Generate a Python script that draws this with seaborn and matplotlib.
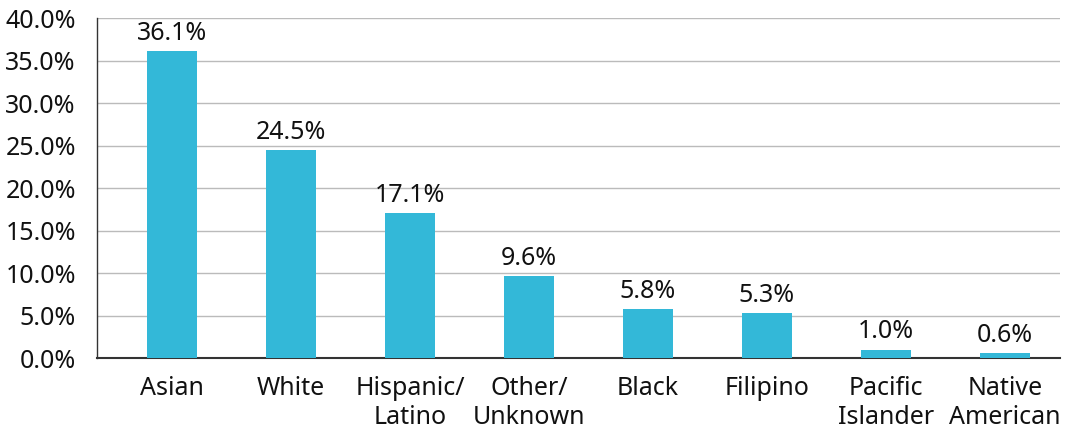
import matplotlib
matplotlib.use("Agg")
import matplotlib.pyplot as plt
import seaborn as sns
import pandas as pd

# data
groups = ["Asian", "White", "Hispanic/\nLatino", "Other/\nUnknown", "Black",
          "Filipino", "Pacific\nIslander", "Native\nAmerican"]
shares = [36.1, 24.5, 17.1, 9.6, 5.8, 5.3, 1.0, 0.6]
yticks = [0, 5, 10, 15, 20, 25, 30, 35, 40]

df = pd.DataFrame({"group": groups, "share": shares})

sns.set_style("white")
plt.rcParams["font.family"] = ["Noto Sans", "DejaVu Sans"]

fig = plt.figure(figsize=(10.65, 4.34), dpi=100)
ax = fig.add_axes([0.091, 0.175, 0.904, 0.7835])

sns.barplot(data=df, x="group", y="share", color="#33b8d8", saturation=1,
            width=0.42, ax=ax, zorder=3, linewidth=0, edgecolor="none")

# value labels above the bars
for i, v in enumerate(shares):
    ax.text(i, v + 0.6, f"{v:.1f}%", ha="center", va="bottom", fontsize=18,
            color="#111111")

ax.set_ylim(0, 40)
ax.set_xlim(-0.63, 7.46)
ax.set_yticks(yticks)
ax.set_yticklabels([f"{t:.1f}%" for t in yticks], fontsize=18, color="#111111")
ax.tick_params(axis="x", labelsize=18, colors="#111111", length=6, width=1,
               color="#333333", pad=7)
ax.tick_params(axis="y", length=7.2, width=1, color="#bbbbbb", pad=8)
ax.yaxis.grid(True, color="#bbbbbb", linewidth=1, zorder=0)
ax.set_xlabel("")
ax.set_ylabel("")
for lab in ax.get_xticklabels():
    lab.set_linespacing(1.2)

for s in ["top", "right"]:
    ax.spines[s].set_visible(False)
ax.spines["left"].set_color("#333333")
ax.spines["bottom"].set_color("#333333")
ax.spines["left"].set_linewidth(1)
ax.spines["bottom"].set_linewidth(1.5)

fig.savefig("out.png", dpi=100)
